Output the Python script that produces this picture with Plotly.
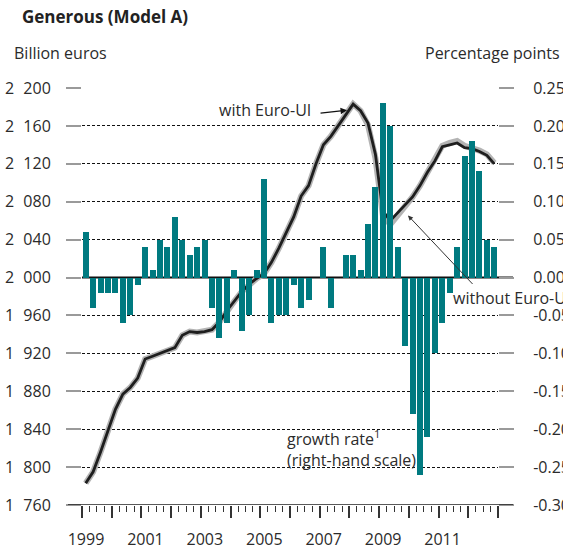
import plotly.graph_objects as go

# ---------------- data ----------------
years = list(range(1999, 2013))
quarters = [f"{y}Q{q}" for y in years for q in range(1, 5)]

growth_rate = [
    0.06, -0.04, -0.02, -0.02,   # 1999
    -0.02, -0.06, -0.05, -0.01,  # 2000
    0.04, 0.01, 0.05, 0.04,      # 2001
    0.08, 0.05, 0.03, 0.04,      # 2002
    0.05, -0.04, -0.08, -0.06,   # 2003
    0.01, -0.07, -0.05, 0.01,    # 2004
    0.13, -0.06, -0.05, -0.05,   # 2005
    -0.01, -0.04, -0.03, 0.00,   # 2006
    0.04, -0.04, 0.00, 0.03,     # 2007
    0.03, 0.01, 0.07, 0.12,      # 2008
    0.23, 0.20, 0.04, -0.09,     # 2009
    -0.18, -0.26, -0.21, -0.10,  # 2010
    -0.06, -0.02, 0.04, 0.16,    # 2011
    0.18, 0.14, 0.05, 0.04,      # 2012
]

with_euro_ui = [
    1783, 1795, 1816, 1839,
    1861, 1877, 1884, 1894,
    1914, 1917, 1920, 1923,
    1926, 1939, 1943, 1942,
    1943, 1945, 1953, 1965,
    1975, 1985, 1993, 1999,
    2004, 2016, 2031, 2047,
    2064, 2086, 2097, 2120,
    2140, 2149, 2160, 2172,
    2183, 2176, 2163, 2130,
    2070, 2060, 2068, 2077,
    2085, 2097, 2111, 2123,
    2138, 2140, 2142, 2137,
    2136, 2133, 2129, 2120,
]

without_euro_ui = [
    1783, 1795, 1816, 1839,
    1861, 1877, 1884, 1894,
    1914, 1917, 1920, 1923,
    1926, 1939, 1943, 1942,
    1943, 1945, 1953, 1965,
    1975, 1985, 1993, 1999,
    2004, 2016, 2031, 2047,
    2064, 2086, 2097, 2120,
    2140, 2149, 2160, 2172,
    2183, 2176, 2161, 2126,
    2066, 2056, 2065, 2076,
    2085, 2097, 2111, 2124,
    2139, 2142, 2144, 2139,
    2137, 2134, 2130, 2121,
]

left_ticks = list(range(1760, 2201, 40))
left_ticktext = [f"{v // 1000}\u2007{v % 1000:03d}" for v in left_ticks]
right_ticks = [round(-0.30 + 0.05 * i, 2) for i in range(12)]
right_ticktext = [f"{v:.2f}" if v >= 0 else f"-{abs(v):.2f}" for v in right_ticks]
x_tickvals = list(range(1999, 2014))
x_ticktext = [str(y) if (y % 2 == 1 and y < 2013) else "" for y in x_tickvals]

# quarter mid-points on a numeric year axis
xq = [y + (q - 0.5) / 4 for y in years for q in range(1, 5)]

FONT = "Open Sans"
TEXT = "#2b2b2b"
TEAL = "#007a80"

fig = go.Figure()
fig.add_trace(go.Bar(x=xq, y=growth_rate, yaxis="y2", marker_color=TEAL,
                     marker_line_width=0, width=0.2, showlegend=False))
fig.add_trace(go.Scatter(x=xq, y=without_euro_ui, mode="lines",
                         line=dict(color="#b4b4b4", width=6), showlegend=False))
fig.add_trace(go.Scatter(x=xq, y=with_euro_ui, mode="lines",
                         line=dict(color="#1e1e1e", width=2.8), showlegend=False))

W, H = 563, 551
L, R, T, B = 82, 65, 88, 46
pw = W - L - R
ph = H - T - B

def px(x):
    return (x - L) / pw

def py(y):
    return 1 - (y - T) / ph

fig.update_layout(
    width=W, height=H,
    margin=dict(l=L, r=R, t=T, b=B, autoexpand=False),
    paper_bgcolor="white", plot_bgcolor="white",
    font=dict(family=FONT, size=16, color=TEXT),
    bargap=0,
    xaxis=dict(
        range=[1999, 2013], tickmode="array", tickvals=x_tickvals, ticktext=x_ticktext,
        ticks="outside", ticklen=12, tickwidth=1.5, tickcolor="#333",
        ticklabelshift=4, ticklabelstandoff=8, automargin=False,
        minor=dict(ticks="outside", ticklen=6, tickwidth=1, tickcolor="#333",
                   tickmode="linear", tick0=1999, dtick=0.25, showgrid=False),
        showgrid=False, zeroline=False, showline=False,
        tickfont=dict(size=16, color=TEXT),
    ),
    yaxis=dict(
        range=[1760, 2200], tickmode="array", tickvals=left_ticks, ticktext=left_ticktext,
        ticks="outside", ticklen=15, tickwidth=2, tickcolor="#9a9a9a",
        ticklabelstandoff=12, automargin=False,
        showgrid=True, gridcolor="#111", gridwidth=1, griddash="3px,2px",
        zeroline=False, showline=False, tickfont=dict(size=16, color=TEXT),
    ),
    yaxis2=dict(
        range=[-0.30, 0.25], overlaying="y", side="right", tickmode="array",
        tickvals=right_ticks, ticktext=right_ticktext,
        ticks="outside", ticklen=15, tickwidth=2, tickcolor="#9a9a9a",
        ticklabelstandoff=16, automargin=False,
        showgrid=False, zeroline=False, showline=False,
        tickfont=dict(size=16, color=TEXT),
    ),
    shapes=[
        # zero line of the bar scale
        dict(type="line", xref="paper", yref="y2", x0=0, x1=px(513), y0=0, y1=0,
             line=dict(color="#111", width=2), layer="between"),
        # x-axis base line
        dict(type="line", xref="paper", yref="y", x0=px(68), x1=px(513), y0=1760, y1=1760,
             line=dict(color="#222", width=1.5), layer="above"),
    ],
    annotations=[
        dict(text="<b>Generous (Model A)</b>", xref="paper", yref="paper",
             x=px(20), y=py(17), xanchor="left", yanchor="middle",
             showarrow=False, font=dict(size=17, color="#222")),
        dict(text="Billion euros", xref="paper", yref="paper",
             x=px(12), y=py(53), xanchor="left", yanchor="middle",
             showarrow=False, font=dict(size=16, color=TEXT)),
        dict(text="Percentage points", xref="paper", yref="paper",
             x=px(562), y=py(53), xanchor="right", yanchor="middle",
             showarrow=False, font=dict(size=16, color=TEXT)),
        # with Euro-UI
        dict(text="with Euro-UI", xref="paper", yref="paper",
             x=px(313), y=py(110), xanchor="right", yanchor="middle",
             showarrow=False, font=dict(size=16, color=TEXT)),
        dict(text="", x=2007.92, y=2176.5, xref="x", yref="y", showarrow=True,
             ax=-28, ay=3, arrowhead=2, arrowsize=1, arrowwidth=1.3, arrowcolor="#111"),
        # without Euro-UI
        dict(text="without Euro-UI", xref="paper", yref="paper",
             x=px(451), y=py(298), xanchor="left", yanchor="middle",
             showarrow=False, font=dict(size=16, color=TEXT)),
        dict(text="", x=2009.97, y=2065.5, xref="x", yref="y", showarrow=True,
             ax=66, ay=70, arrowhead=2, arrowsize=1, arrowwidth=1, arrowcolor="#333"),
        # growth rate label
        dict(text="growth rate<sup>1</sup>", xref="paper", yref="paper",
             x=px(285), y=py(438), xanchor="left", yanchor="middle",
             showarrow=False, font=dict(size=16, color=TEXT)),
        dict(text="(right-hand scale)", xref="paper", yref="paper",
             x=px(285), y=py(460), xanchor="left", yanchor="middle",
             showarrow=False, font=dict(size=16, color=TEXT)),
    ],
)

fig.write_html("out.html", config={"displayModeBar": False},
               post_script="document.body.style.margin='0';document.body.style.overflow='hidden';")
